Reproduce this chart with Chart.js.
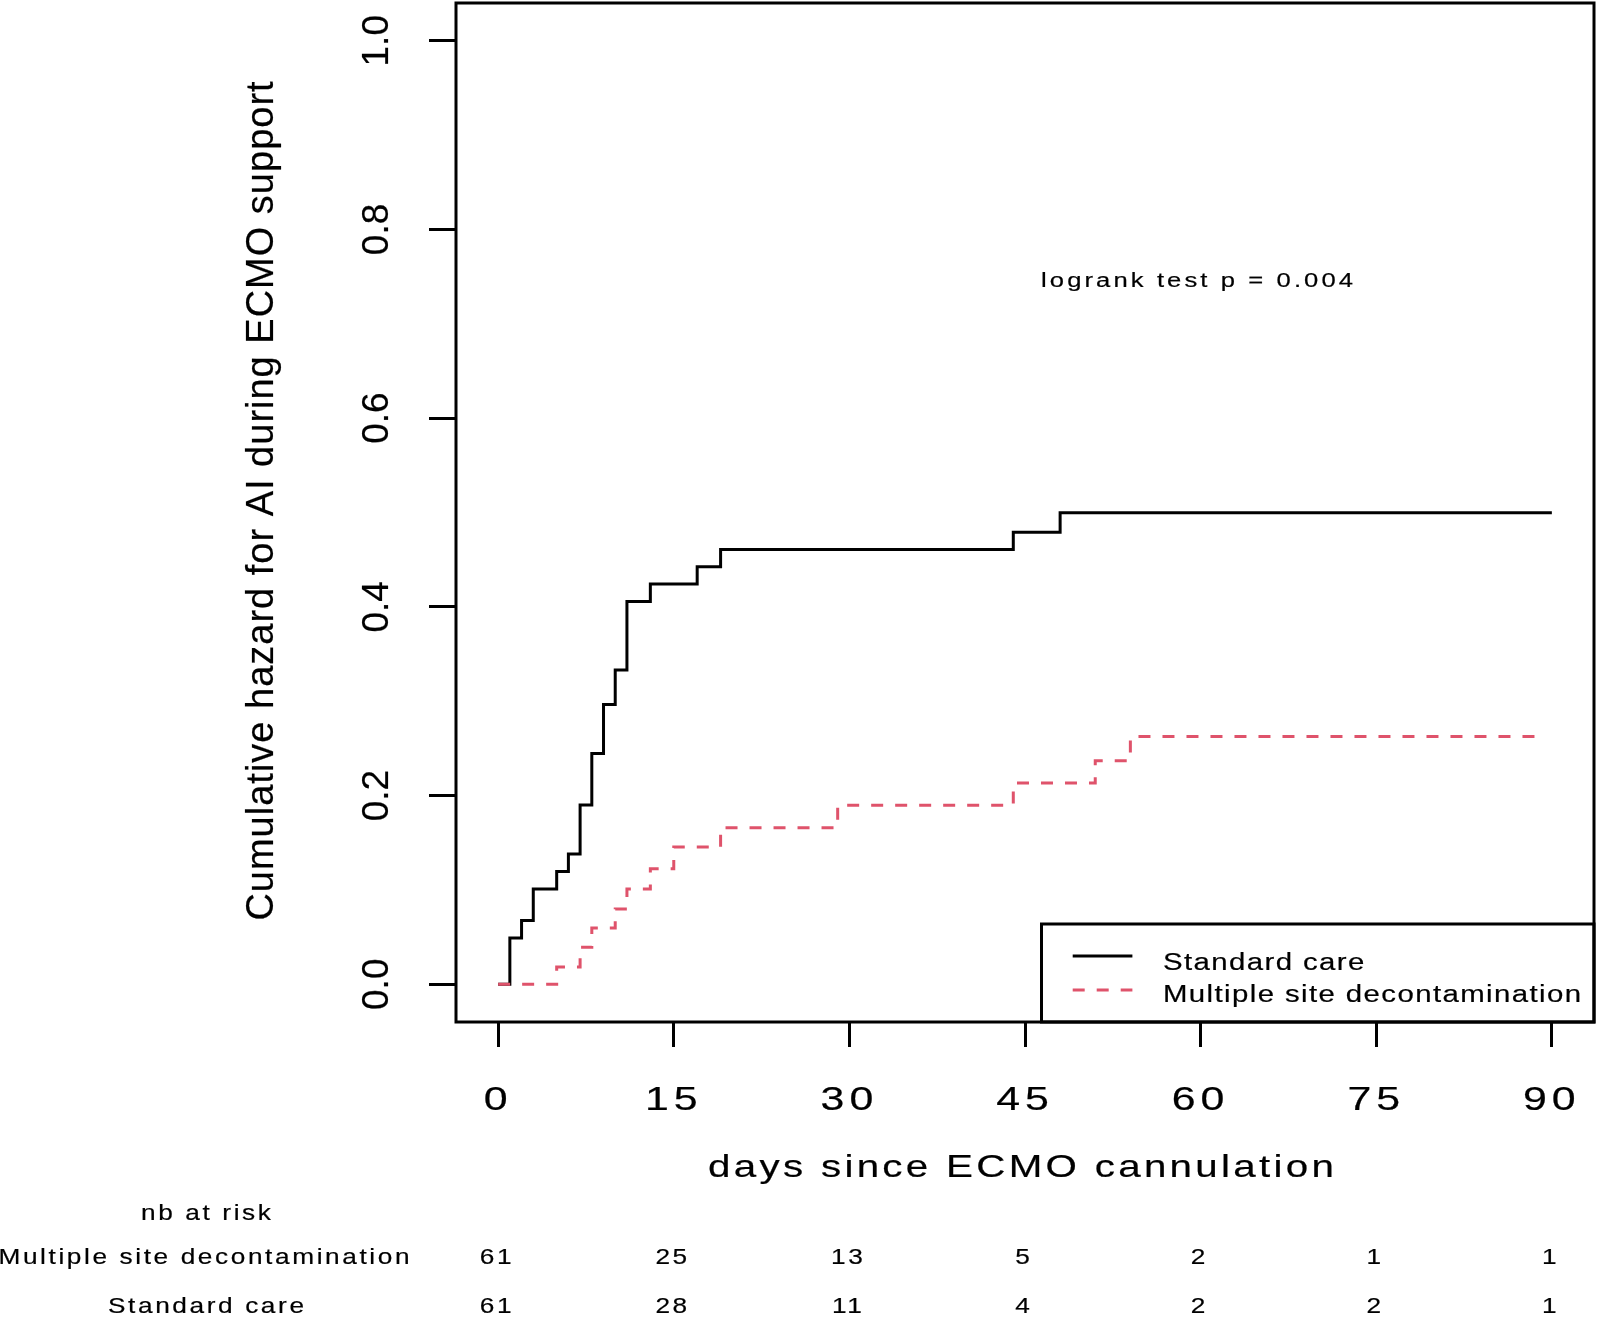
<!DOCTYPE html>
<html>
<head>
<meta charset="utf-8">
<script src="https://cdn.jsdelivr.net/npm/chart.js@4/dist/chart.umd.min.js"></script>
<style>
  html, body { margin: 0; padding: 0; background: #fff; }
  canvas { display: block; }
</style>
</head>
<body>
<canvas id="km" width="1598" height="1320"></canvas>
<script>
// step times (days) and cumulative hazard
const standardDays = [0, 1, 2, 3, 5, 6, 7, 8, 9, 10, 11, 13, 17, 19, 44, 48, 90];
const standardHazard = [0, 0.049, 0.0675, 0.101, 0.1196, 0.138, 0.190, 0.2446, 0.2966, 0.333, 0.4058, 0.4241, 0.4424, 0.4607, 0.479, 0.4998, 0.4998];
const decontDays = [0, 5, 7, 8, 10, 11, 13, 15, 19, 29, 44, 51, 54, 89];
const decontHazard = [0, 0.0182, 0.0393, 0.0597, 0.0798, 0.101, 0.1224, 0.1456, 0.166, 0.1897, 0.2132, 0.2368, 0.2625, 0.2625];

const xTicks = [0, 15, 30, 45, 60, 75, 90];
const yTicks = [0, 0.2, 0.4, 0.6, 0.8, 1.0];
const yTickLabels = ['0.0', '0.2', '0.4', '0.6', '0.8', '1.0'];

const riskRowNames = ['Multiple site decontamination', 'Standard care'];
const atRiskDecont = [61, 25, 13, 5, 2, 1, 1];
const atRiskStandard = [61, 28, 11, 4, 2, 2, 1];

const seriesNames = ['Standard care', 'Multiple site decontamination'];
const pValueText = 'logrank test p = 0.004';
const xTitle = 'days since ECMO cannulation';
const yTitle = 'Cumulative hazard for AI during ECMO support';

const RED = '#DF536B';
const FONT = '"Liberation Sans", Arial, sans-serif';

function pts(xs, ys) {
    return xs.map((x, i) => ({ x: x, y: ys[i] }));
}

// R-like text: glyphs a bit wide, letters spaced out
function drawText(ctx, text, x, y, o) {
    const sx = o.sx || 1;
    const ls = o.ls || 0;
    ctx.save();
    ctx.font = o.size + 'px ' + FONT;
    ctx.fillStyle = '#000';
    ctx.strokeStyle = '#000';
    ctx.textBaseline = 'alphabetic';
    ctx.textAlign = 'left';
    ctx.letterSpacing = '0px';
    const w = ctx.measureText(text).width * sx + ls * (text.length - 1);
    ctx.letterSpacing = (ls / sx) + 'px';
    ctx.translate(x, y);
    if (o.rot) ctx.rotate(o.rot);
    ctx.scale(sx, 1);
    const x0 = o.align === 'center' ? -w / 2 / sx : 0;
    ctx.fillText(text, x0, 0);
    if (o.heavy) {
        ctx.lineWidth = o.heavy;
        ctx.strokeText(text, x0, 0);
    }
    ctx.restore();
}

const decorations = {
    id: 'decorations',
    afterDraw(chart) {
        const ctx = chart.ctx;
        const a = chart.chartArea;
        const xs = chart.scales.x;
        const ys = chart.scales.y;

        // plot box
        ctx.save();
        ctx.strokeStyle = '#000';
        ctx.lineWidth = 3;
        ctx.strokeRect(a.left, a.top, a.right - a.left, a.bottom - a.top);

        // legend box (bottom right, sharing the plot border)
        const lx = 1041.5, ly = 924;
        ctx.strokeRect(lx, ly, a.right - lx, a.bottom - ly);
        ctx.beginPath();
        ctx.moveTo(1072.7, 956);
        ctx.lineTo(1132.4, 956);
        ctx.stroke();
        ctx.strokeStyle = RED;
        ctx.setLineDash([12, 12]);
        ctx.beginPath();
        ctx.moveTo(1072.7, 990);
        ctx.lineTo(1132.4, 990);
        ctx.stroke();
        ctx.restore();

        const legOpt = { size: 23.5, sx: 1.25, ls: 1.4, heavy: 0.2 };
        drawText(ctx, seriesNames[0], 1163, 970, legOpt);
        drawText(ctx, seriesNames[1], 1163, 1002, legOpt);

        // p value
        drawText(ctx, pValueText, 1041, 286.5, { size: 20, sx: 1.28, ls: 3.1, heavy: 0.2 });

        // tick labels
        xTicks.forEach(v => {
            drawText(ctx, String(v), xs.getPixelForValue(v) - 2.5, 1110, { size: 33, sx: 1.3, ls: 5, align: 'center', heavy: 0.2 });
        });
        yTicks.forEach((v, i) => {
            drawText(ctx, yTickLabels[i], 388, ys.getPixelForValue(v), { size: 37, rot: -Math.PI / 2, align: 'center', heavy: 0.2 });
        });

        // axis titles
        drawText(ctx, xTitle, 1021, 1177, { size: 31.5, sx: 1.28, ls: 3.3, align: 'center', heavy: 0.2 });
        drawText(ctx, yTitle, 272.6, 501, { size: 38, ls: 1, rot: -Math.PI / 2, align: 'center', heavy: 0.2 });

        // numbers at risk
        const riskOpt = { size: 21.5, sx: 1.22, ls: 2.6, align: 'center', heavy: 0.2 };
        drawText(ctx, 'nb at risk', 206, 1220, riskOpt);
        drawText(ctx, riskRowNames[0], 204, 1264, riskOpt);
        drawText(ctx, riskRowNames[1], 206, 1313, riskOpt);
        xTicks.forEach((v, i) => {
            const px = xs.getPixelForValue(v) - 2.5;
            drawText(ctx, String(atRiskDecont[i]), px, 1264, riskOpt);
            drawText(ctx, String(atRiskStandard[i]), px, 1313, riskOpt);
        });
    }
};

new Chart(document.getElementById('km'), {
    type: 'line',
    data: {
        datasets: [{
            label: seriesNames[0],
            data: pts(standardDays, standardHazard),
            borderColor: '#000',
            borderWidth: 3,
            stepped: true,
            pointRadius: 0,
            fill: false,
            order: 1
        }, {
            label: seriesNames[1],
            data: pts(decontDays, decontHazard),
            borderColor: RED,
            borderWidth: 3,
            borderDash: [12, 12],
            borderCapStyle: 'butt',
            stepped: true,
            pointRadius: 0,
            fill: false,
            order: 0
        }]
    },
    options: {
        responsive: false,
        animation: false,
        events: [],
        layout: { padding: { left: 429, top: 3, right: 4, bottom: 273 } },
        plugins: {
            legend: { display: false },
            tooltip: { enabled: false }
        },
        scales: {
            x: {
                type: 'linear',
                min: -3.6,
                max: 93.6,
                afterBuildTicks: axis => { axis.ticks = xTicks.map(v => ({ value: v })); },
                ticks: { display: false },
                border: { display: false },
                grid: { drawOnChartArea: false, drawTicks: true, tickLength: 25, color: '#000', lineWidth: 3 }
            },
            y: {
                type: 'linear',
                min: -0.04,
                max: 1.04,
                afterBuildTicks: axis => { axis.ticks = yTicks.map(v => ({ value: v })); },
                ticks: { display: false },
                border: { display: false },
                grid: { drawOnChartArea: false, drawTicks: true, tickLength: 27, color: '#000', lineWidth: 3 }
            }
        }
    },
    plugins: [decorations]
});
</script>
</body>
</html>
